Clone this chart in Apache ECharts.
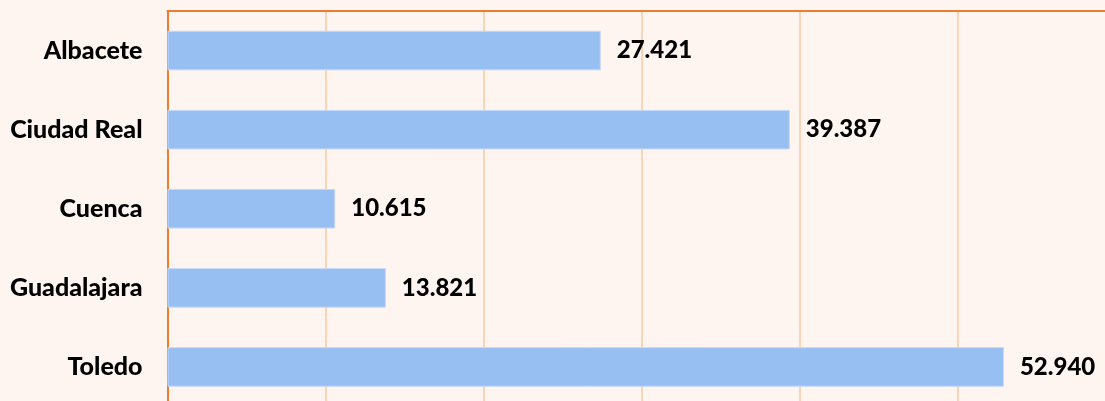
<!DOCTYPE html>
<html>
<head>
<meta charset="utf-8">
<script src="https://cdn.jsdelivr.net/npm/echarts@6/dist/echarts.min.js"></script>
<style>
html,body{margin:0;padding:0;background:#FEF5F0;overflow:hidden;}
#chart{width:1130px;height:420px;}
</style>
</head>
<body>
<div id="chart"></div>
<script>
var categories = ['Albacete', 'Ciudad Real', 'Cuenca', 'Guadalajara', 'Toledo'];
var values = [27421, 39387, 10615, 13821, 52940];
var axisMin = 0, axisMax = 60000, axisInterval = 10000;

function fmt(v) {
  return String(v).replace(/\B(?=(\d{3})+(?!\d))/g, '.');
}

var chart = echarts.init(document.getElementById('chart'), null, {renderer: 'canvas'});
chart.setOption({
  backgroundColor: '#FEF5F0',
  animation: false,
  grid: {left: 167.5, top: 11, width: 948, height: 395.5, containLabel: false},
  xAxis: {
    type: 'value', position: 'top', min: axisMin, max: axisMax, interval: axisInterval,
    axisLine: {show: true, lineStyle: {color: '#ED7D31', width: 2}},
    axisTick: {show: false},
    axisLabel: {show: false},
    splitLine: {show: true, lineStyle: {color: '#FAD5B5', width: 2}}
  },
  yAxis: {
    type: 'category', data: categories, inverse: true,
    axisLine: {show: true, lineStyle: {color: '#ED7D31', width: 2}},
    axisTick: {show: false},
    axisLabel: {margin: 25, color: '#000', fontFamily: 'Lato', fontWeight: 900, fontSize: 25},
    splitLine: {show: false}
  },
  series: [{
    type: 'bar', data: values, barWidth: '50%',
    itemStyle: {color: '#97BFF2', borderColor: '#C3D9F5', borderWidth: 1},
    label: {show: true, position: 'right', distance: 16, color: '#000',
      fontFamily: 'Lato', fontWeight: 900, fontSize: 24,
      formatter: function (p) { return fmt(p.value); }}
  }]
});
</script>
</body>
</html>
